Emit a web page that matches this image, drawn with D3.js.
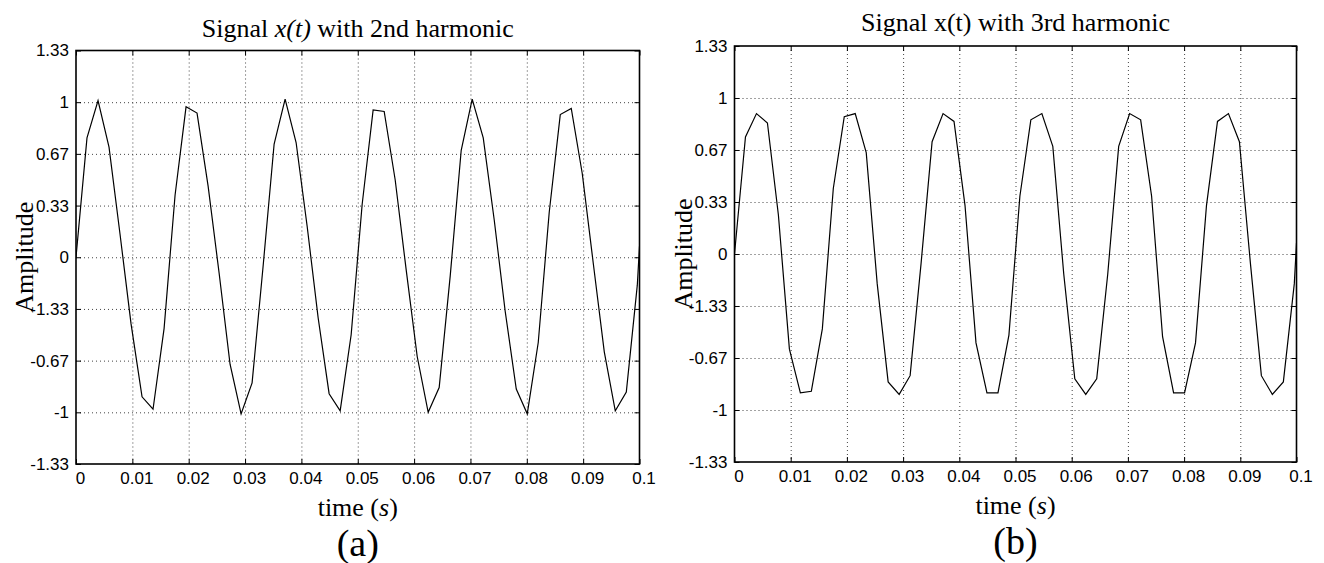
<!DOCTYPE html>
<html>
<head>
<meta charset="utf-8">
<script src="https://cdn.jsdelivr.net/npm/d3@7"></script>
<style>
  body { margin: 0; background: #fff; }
  svg { display: block; }
</style>
</head>
<body>
<div id="chart"></div>
<script>
// sample times (s), last one is the right edge of the axes
const time = [0, 0.00195, 0.00391, 0.00586, 0.00781, 0.00977, 0.01172, 0.01367, 0.01563, 0.01758,
  0.01953, 0.02148, 0.02344, 0.02539, 0.02734, 0.0293, 0.03125, 0.0332, 0.03516, 0.03711,
  0.03906, 0.04102, 0.04297, 0.04492, 0.04688, 0.04883, 0.05078, 0.05273, 0.05469, 0.05664,
  0.05859, 0.06055, 0.0625, 0.06445, 0.06641, 0.06836, 0.07031, 0.07227, 0.07422, 0.07617,
  0.07813, 0.08008, 0.08203, 0.08398, 0.08594, 0.08789, 0.08984, 0.0918, 0.09375, 0.0957,
  0.09766, 0.09961, 0.1]

// panel (a): signal with 2nd harmonic
const harmonic2 = [0, 0.77, 1.01, 0.71, 0.15, -0.43, -0.90, -0.98, -0.46, 0.40,
  0.97, 0.93, 0.46, -0.10, -0.69, -1.01, -0.81, -0.06, 0.73, 1.02,
  0.74, 0.20, -0.39, -0.88, -0.99, -0.50, 0.34, 0.95, 0.94, 0.50,
  -0.08, -0.64, -1.00, -0.84, -0.12, 0.69, 1.02, 0.77, 0.24, -0.35,
  -0.85, -1.01, -0.55, 0.29, 0.92, 0.96, 0.54, -0.04, -0.61, -0.99,
  -0.87, -0.18, 0.07]

// panel (b): signal with 3rd harmonic
const harmonic3 = [0, 0.75, 0.90, 0.84, 0.25, -0.61, -0.89, -0.88, -0.48, 0.42,
  0.88, 0.90, 0.65, -0.19, -0.82, -0.90, -0.78, -0.06, 0.72, 0.90,
  0.85, 0.31, -0.57, -0.89, -0.89, -0.52, 0.37, 0.86, 0.90, 0.69,
  -0.13, -0.80, -0.90, -0.80, -0.13, 0.69, 0.90, 0.86, 0.37, -0.53,
  -0.89, -0.89, -0.57, 0.31, 0.85, 0.90, 0.72, -0.06, -0.78, -0.90,
  -0.82, -0.19, 0.07]

const xTicks = [0, 0.01, 0.02, 0.03, 0.04, 0.05, 0.06, 0.07, 0.08, 0.09, 0.1]
const xTickLabels = ['0', '0.01', '0.02', '0.03', '0.04', '0.05', '0.06', '0.07', '0.08', '0.09', '0.1']
const yTicks = [1.3333, 1, 0.6667, 0.3333, 0, -0.3333, -0.6667, -1, -1.3333]
const yTickLabels = ['1.33', '1', '0.67', '0.33', '0', '-1.33', '-0.67', '-1', '-1.33']

const serif = '"Liberation Serif", "Times New Roman", serif'
const sans = '"Liberation Sans", Arial, sans-serif'

const svg = d3.select('#chart')
  .append('svg')
  .attr('width', 1324)
  .attr('height', 563)

svg.append('rect')
  .attr('width', 1324)
  .attr('height', 563)
  .attr('fill', '#fff')

const panels = [
  {
    id: 'a', left: 76, top: 50.5, width: 563.5, height: 413.5, titleY: -14,
    title: [['Signal ', false], ['x(t)', true], [' with 2nd harmonic', false]],
    values: harmonic2
  },
  {
    id: 'b', left: 734.5, top: 46, width: 562, height: 416, titleY: -15,
    title: [['Signal x(t) with 3rd harmonic', false]],
    values: harmonic3
  }
]

panels.forEach(function(p) {
  const w = p.width
  const h = p.height

  const x = d3.scaleLinear().domain([0, 0.1]).range([0, w])
  const y = d3.scaleLinear().domain([-1.3333, 1.3333]).range([h, 0])

  const g = svg.append('g')
    .attr('transform', `translate(${p.left}, ${p.top})`)

  // dotted grid
  const gridX = g.append('g')
    .call(d3.axisBottom(x).tickValues(xTicks.slice(1, -1)).tickSize(h).tickFormat(''))
  const gridY = g.append('g')
    .call(d3.axisLeft(y).tickValues(yTicks.slice(1, -1)).tickSize(-w).tickFormat(''))
  ;[gridX, gridY].forEach(function(gr) {
    gr.select('.domain').remove()
    gr.selectAll('line')
      .attr('stroke', '#444')
      .attr('stroke-width', 1)
      .attr('stroke-dasharray', '1,3')
  })

  // signal
  g.append('clipPath')
    .attr('id', 'clip-' + p.id)
    .append('rect')
    .attr('width', w)
    .attr('height', h)

  const line = d3.line()
    .x((d, i) => x(time[i]))
    .y(d => y(d))

  g.append('path')
    .datum(p.values)
    .attr('clip-path', `url(#clip-${p.id})`)
    .attr('d', line)
    .attr('fill', 'none')
    .attr('stroke', '#000')
    .attr('stroke-width', 1.2)

  // axes with inward ticks
  const xAxis = g.append('g')
    .attr('transform', `translate(0, ${h})`)
    .call(d3.axisBottom(x)
      .tickValues(xTicks)
      .tickFormat((d, i) => xTickLabels[i])
      .tickSizeInner(-5)
      .tickSizeOuter(0)
      .tickPadding(8))
  xAxis.selectAll('text').attr('dx', 4)

  g.append('g')
    .call(d3.axisLeft(y)
      .tickValues(yTicks)
      .tickFormat((d, i) => yTickLabels[i])
      .tickSizeInner(-5)
      .tickSizeOuter(0)
      .tickPadding(7))

  g.append('g')
    .call(d3.axisTop(x).tickValues(xTicks).tickFormat('').tickSizeInner(-5).tickSizeOuter(0))
  g.append('g')
    .attr('transform', `translate(${w}, 0)`)
    .call(d3.axisRight(y).tickValues(yTicks).tickFormat('').tickSizeInner(-5).tickSizeOuter(0))

  g.selectAll('.domain').remove()
  g.selectAll('.tick text')
    .attr('font-family', sans)
    .attr('font-size', 17)
    .attr('fill', '#000')
  g.selectAll('.tick line:not([stroke-dasharray])')
    .attr('stroke', '#000')

  g.append('rect')
    .attr('width', w)
    .attr('height', h)
    .attr('fill', 'none')
    .attr('stroke', '#000')
    .attr('stroke-width', 1.6)

  // title
  const title = g.append('text')
    .attr('x', w / 2)
    .attr('y', p.titleY)
    .attr('text-anchor', 'middle')
    .attr('font-family', serif)
    .attr('font-size', 26)
  p.title.forEach(function(part) {
    title.append('tspan')
      .attr('font-style', part[1] ? 'italic' : 'normal')
      .text(part[0])
  })

  // axis labels
  const xl = g.append('text')
    .attr('x', w / 2)
    .attr('y', h + 52)
    .attr('text-anchor', 'middle')
    .attr('font-family', serif)
    .attr('font-size', 26)
  xl.append('tspan').text('time (')
  xl.append('tspan').attr('font-style', 'italic').text('s')
  xl.append('tspan').text(')')

  g.append('text')
    .attr('transform', `translate(-43, ${h / 2}) rotate(-90)`)
    .attr('text-anchor', 'middle')
    .attr('font-family', serif)
    .attr('font-size', 26)
    .text('Amplitude')

  g.append('text')
    .attr('x', w / 2)
    .attr('y', h + 92)
    .attr('text-anchor', 'middle')
    .attr('font-family', serif)
    .attr('font-size', 38)
    .text(`(${p.id})`)
})
</script>
</body>
</html>
